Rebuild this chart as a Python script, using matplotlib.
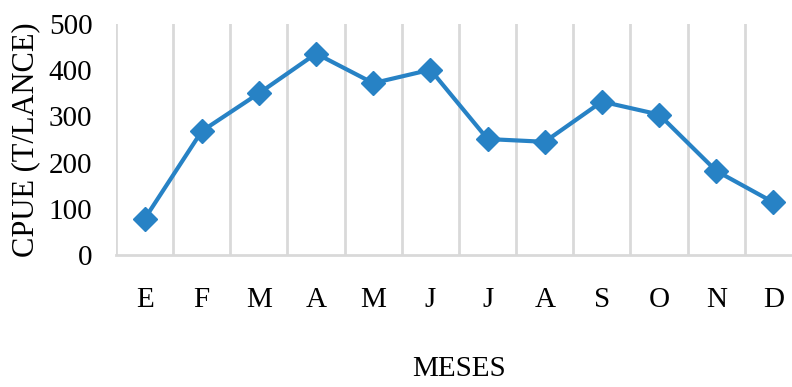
import matplotlib
matplotlib.use("Agg")
import matplotlib.pyplot as plt
from matplotlib.ticker import FixedLocator, MultipleLocator

months = ["E", "F", "M", "A", "M", "J", "J", "A", "S", "O", "N", "D"]
cpue = [78, 268, 350, 436, 372, 401, 251, 245, 332, 304, 182, 114]

plt.rcParams["font.family"] = ["Liberation Serif", "DejaVu Serif"]

fig = plt.figure(figsize=(7.92, 3.87), dpi=100)
ax = fig.add_axes([116 / 792, 1 - 255 / 387, (802 - 116) / 792, (255 - 24) / 387])

x = list(range(len(months)))
ax.plot(x, cpue, color="#2782C5", linewidth=3, marker="D", markersize=12,
        solid_joinstyle="round", zorder=3)

ax.set_xlim(-0.5, len(months) - 0.5)
ax.set_ylim(0, 500)
ax.yaxis.set_major_locator(MultipleLocator(100))
ax.set_xticks(x)
ax.set_xticklabels(months)
ax.xaxis.set_minor_locator(FixedLocator([i + 0.5 for i in range(-1, len(months))]))
ax.grid(False)
ax.grid(True, which="minor", axis="x", color="#d9d9d9", linewidth=2)

for s in ["top", "right", "left"]:
    ax.spines[s].set_visible(False)
ax.spines["bottom"].set_color("#d9d9d9")
ax.spines["bottom"].set_linewidth(2)

ax.tick_params(axis="both", which="both", length=0, labelsize=21)
ax.tick_params(axis="x", pad=23)
ax.tick_params(axis="y", pad=17)

ax.set_ylabel("CPUE (T/LANCE)", fontsize=22, labelpad=6)
ax.set_xlabel("MESES", fontsize=21, labelpad=31)

fig.savefig("out.png", dpi=100)
